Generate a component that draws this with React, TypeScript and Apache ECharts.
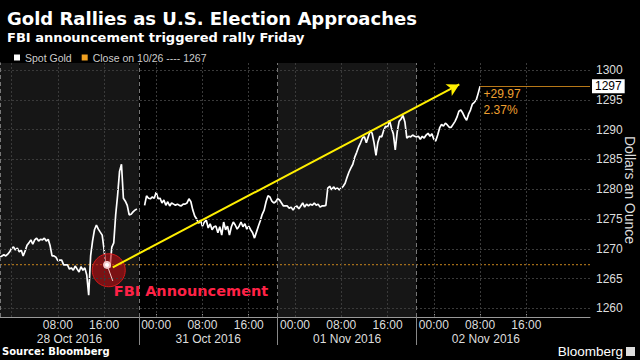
import React, { useEffect, useRef } from "react";
import * as echarts from "echarts";

const titleText = "Gold Rallies as U.S. Election Approaches";
const subtitleText = "FBI announcement triggered rally Friday";
const sourceText = "Source: Bloomberg";
const logoText = "Bloomberg";
const seriesName = "Spot Gold";
const closeName = "Close on 10/26 ---- 1267";
const yAxisName = "Dollars an Ounce";
const fbiText = "FBI Announcement";

// x axis: trading hours from session start (22:00 London, 27 Oct 2016), weekend removed
const xMin = 0;
const xMax = 102;
const stepHours = 1 / 3; // one sample every 20 minutes

const oct28Start = 0;
const oct28Prices = [
  1268.6, 1268.8, 1269.0, 1268.8, 1269.1, 1269.5, 1270.1, 1270.3, 1269.8, 1270.1,
  1269.5, 1269.8, 1268.8, 1269.6, 1270.6, 1271.0, 1271.5, 1270.8, 1271.5, 1271.8,
  1271.3, 1271.6, 1271.5, 1271.8, 1271.3, 1271.6, 1270.5, 1268.8, 1268.8, 1268.6,
  1268.0, 1268.1, 1268.1, 1267.3, 1267.3, 1267.3, 1266.6, 1266.8, 1266.4, 1267.1,
  1266.6, 1266.1, 1267.0, 1266.4, 1266.8, 1265.6, 1262.2, 1268.8, 1271.3, 1273.2,
  1274.0, 1273.3, 1272.8, 1272.3, 1269.8, 1266.8, 1267.4, 1266.8, 1270.3, 1271.0,
  1275.7, 1279.0, 1283.0, 1284.2, 1278.5, 1278.0, 1277.3, 1275.7, 1275.8, 1276.2,
  1276.5, 1276.7,
];
const weekendGapAt = 24.5;
const oct31Start = 25;
const oct31Prices = [
  1277.3, 1278.9, 1278.5, 1278.4, 1278.7, 1278.5, 1279.5, 1278.4, 1278.5, 1277.7,
  1278.2, 1277.3, 1277.9, 1277.2, 1277.7, 1277.5, 1277.3, 1277.5, 1277.3, 1277.2,
  1277.5, 1277.5, 1277.7, 1278.4, 1277.9, 1276.5, 1275.5, 1275.0, 1274.3, 1274.8,
  1273.8, 1274.5, 1274.8, 1273.5, 1274.2, 1273.2, 1273.7, 1273.8, 1272.7, 1273.7,
  1272.3, 1274.5, 1273.2, 1273.8, 1272.3, 1273.7, 1274.5, 1274.0, 1273.3, 1273.8,
  1274.5, 1273.7, 1274.2, 1273.3, 1273.8, 1273.2, 1272.7, 1271.8, 1272.8, 1273.8,
  1274.7, 1275.8, 1276.5, 1277.9, 1278.9, 1278.7, 1278.0, 1277.7, 1277.9,
];
const nov01Start = 48;
const nov01Prices = [
  1278.4, 1278.2, 1277.7, 1277.2, 1277.2, 1277.2, 1276.8, 1277.0, 1276.5, 1277.0,
  1277.2, 1276.7, 1277.2, 1277.7, 1277.0, 1277.5, 1277.2, 1277.5, 1277.3, 1277.7,
  1277.3, 1277.5, 1277.0, 1277.2, 1277.2, 1277.3, 1280.2, 1280.5, 1279.9, 1280.4,
  1280.0, 1280.2, 1279.9, 1280.2, 1280.5, 1281.0, 1282.0, 1282.9, 1283.6, 1284.2,
  1285.4, 1286.2, 1287.1, 1287.8, 1288.6, 1288.8, 1287.8, 1288.8, 1289.8, 1289.4,
  1287.8, 1285.7, 1287.9, 1288.9, 1288.8, 1289.9, 1290.6, 1290.4, 1291.6, 1290.3,
  1289.3, 1286.6, 1289.6, 1291.4, 1291.8, 1292.4, 1291.3, 1288.6, 1288.9, 1288.8,
  1289.1, 1288.9,
];
const nov02Start = 72;
const nov02Prices = [
  1288.8, 1288.9, 1288.4, 1288.9, 1288.6, 1289.1, 1289.4, 1288.9, 1289.3, 1288.4,
  1288.1, 1289.1, 1290.3, 1290.9, 1290.6, 1291.1, 1290.8, 1290.4, 1290.4, 1290.9,
  1291.4, 1292.1, 1293.1, 1293.3, 1292.8, 1292.1, 1291.6, 1292.6, 1293.3, 1294.3,
  1294.6, 1295.0, 1296.1, 1297.3,
];

const closeOct26 = 1267.33;
const lastPriceLabel = "1297";
const changeLabel = "+29.97";
const pctLabel = "2.37%";

const hourTicks = [10, 18, 27, 35, 43, 51, 59, 67, 75, 83, 91];
const hourTickLabels = ["08:00", "16:00", "00:00", "08:00", "16:00", "00:00", "08:00", "16:00", "00:00", "08:00", "16:00"];
const gridHours = [2, 10, 18, 27, 35, 43, 51, 59, 67, 75, 83, 91];
const sessionBreaks = [0, 24, 48, 72];
const dayDividers = [24, 48, 72];
const dayCenters = [12, 36, 60, 84];
const dayLabels = ["28 Oct 2016", "31 Oct 2016", "01 Nov 2016", "02 Nov 2016"];
const shadedSessions = [[0, 24], [48, 72]];

const yMin = 1258.55;
const yMax = 1301.2;
const yTicks = [1260, 1265, 1270, 1275, 1280, 1285, 1290, 1295, 1300];
const yMinorTicks = [1262.5, 1267.5, 1272.5, 1277.5, 1282.5, 1287.5, 1292.5, 1297.5];

const fbiPoint = [18.8, 1266.4];
const fbiMarkerFrom = [18.5, 1267.3];
const fbiMarkerTo = [19.5, 1264.6];
const arrowFrom = [19.5, 1266.9];
const arrowTo = [79.4, 1297.6];

const sessionPoints = (start: number, prices: number[]) =>
  prices.map((p, i) => [+(start + i * stepHours).toFixed(3), p]);

const spotData: any[] = [
  ...sessionPoints(oct28Start, oct28Prices),
  [weekendGapAt, "-"],
  ...sessionPoints(oct31Start, oct31Prices),
  ...sessionPoints(nov01Start, nov01Prices),
  ...sessionPoints(nov02Start, nov02Prices),
];
const lastPoint = spotData[spotData.length - 1];
const closeData = [[xMin, closeOct26], [xMax, closeOct26]];

const UI = "Liberation Sans";
const BOLD = "DejaVu Sans";

const labelFor = (vals: number[], labels: string[]) => (v: number) => {
  const i = vals.findIndex((x) => Math.abs(x - v) < 0.01);
  return i >= 0 ? labels[i] : "";
};

const gridStyle = { color: "#3a3a3a", type: [2, 2], width: 1 };

const gridBox = { left: 0, right: 50, top: 63, bottom: 43, containLabel: false, outerBoundsMode: "none" };

const option: any = {
  animation: false,
  backgroundColor: "#000",
  title: {
    left: 2,
    top: 3,
    text: titleText,
    subtext: subtitleText,
    itemGap: 1,
    textStyle: { color: "#fff", fontSize: 18, fontWeight: "bold", fontFamily: BOLD, lineHeight: 20 },
    subtextStyle: { color: "#fff", fontSize: 13, fontWeight: "bold", fontFamily: BOLD, lineHeight: 16 },
  },
  legend: {
    left: 9,
    top: 47,
    icon: "rect",
    itemWidth: 6,
    itemHeight: 6,
    itemGap: 10,
    selectedMode: false,
    data: [seriesName, closeName],
    textStyle: { color: "#ccc", fontSize: 10.5, fontFamily: UI },
  },
  grid: [{ ...gridBox }, { ...gridBox }],
  xAxis: [
    {
      gridIndex: 0,
      type: "value",
      min: xMin,
      max: xMax,
      position: "bottom",
      axisLine: { show: true, lineStyle: { color: "#999", width: 1 } },
      axisTick: { show: true, inside: true, length: 3, customValues: gridHours, lineStyle: { color: "#999" } },
      axisLabel: {
        customValues: hourTicks,
        formatter: labelFor(hourTicks, hourTickLabels),
        color: "#ddd",
        fontSize: 12,
        fontFamily: UI,
        lineHeight: 12,
        margin: 2,
      },
      splitLine: { show: false },
    },
    {
      gridIndex: 1,
      type: "value",
      min: xMin,
      max: xMax,
      position: "bottom",
      axisLine: { show: false },
      axisTick: { show: true, length: 28, customValues: dayDividers, lineStyle: { color: "#888" } },
      axisLabel: {
        customValues: dayCenters,
        formatter: labelFor(dayCenters, dayLabels),
        color: "#ddd",
        fontSize: 12,
        fontFamily: UI,
        lineHeight: 12,
        margin: 16,
      },
      splitLine: { show: false },
    },
  ],
  yAxis: [
    {
      gridIndex: 0,
      type: "value",
      position: "right",
      min: yMin,
      max: yMax,
      axisLine: { show: true, lineStyle: { color: "#999" } },
      axisTick: { show: true, length: 4, customValues: yTicks, lineStyle: { color: "#999" } },
      axisLabel: {
        customValues: yTicks,
        formatter: (v: number) => String(Math.round(v)),
        color: "#ddd",
        fontSize: 12,
        fontFamily: UI,
        margin: 6,
      },
      splitLine: { show: false },
      name: yAxisName,
      nameLocation: "middle",
      nameRotate: -90,
      nameGap: 33,
      nameMoveOverlap: false,
      nameTextStyle: { color: "#ddd", fontSize: 14, fontFamily: UI },
    },
    {
      gridIndex: 1,
      type: "value",
      position: "right",
      min: yMin,
      max: yMax,
      axisLine: { show: false },
      axisTick: { show: true, length: 2, customValues: yMinorTicks, lineStyle: { color: "#999" } },
      axisLabel: { show: false },
      splitLine: { show: false },
    },
  ],
  series: [
    {
      name: "bands",
      type: "line",
      xAxisIndex: 0,
      yAxisIndex: 0,
      data: [],
      z: 0,
      silent: true,
      markArea: {
        silent: true,
        itemStyle: { color: "#161616" },
        data: shadedSessions.map(([a, b]) => [{ xAxis: a }, { xAxis: b }]),
      },
    },
    {
      name: closeName,
      type: "line",
      xAxisIndex: 0,
      yAxisIndex: 0,
      data: closeData,
      color: "#f0a020",
      showSymbol: false,
      symbol: "none",
      z: 1,
      silent: true,
      lineStyle: { color: "#c8861e", width: 1, type: [2, 2] },
      markLine: {
        silent: true,
        symbol: ["none", "none"],
        label: { show: false },
        data: [
          ...gridHours.map((v) => ({ xAxis: v, lineStyle: gridStyle })),
          ...yTicks.map((v) => ({ yAxis: v, lineStyle: gridStyle })),
          ...sessionBreaks.map((v) => ({ xAxis: v, lineStyle: { color: "#777", type: [4, 3], width: 1 } })),
        ],
      },
    },
    {
      name: seriesName,
      type: "line",
      xAxisIndex: 0,
      yAxisIndex: 0,
      data: spotData,
      color: "#fff",
      showSymbol: false,
      symbol: "none",
      connectNulls: false,
      z: 3,
      silent: true,
      lineStyle: { color: "#fff", width: 1.7 },
      markLine: {
        silent: true,
        symbol: ["none", "none"],
        label: { show: false },
        data: [
          [
            { coord: arrowFrom, symbol: "none", lineStyle: { color: "#ffef00", width: 2, type: "solid" } },
            { coord: arrowTo, symbol: "arrow", symbolSize: [10, 12] },
          ],
          [
            {
              coord: [lastPoint[0], lastPoint[1]],
              symbol: "none",
              lineStyle: { color: "#b87818", width: 1, type: "solid" },
              label: {
                show: true,
                position: "end",
                distance: 2,
                formatter: lastPriceLabel,
                color: "#000",
                backgroundColor: "#fff",
                padding: [1, 3, 1, 3],
                fontSize: 12,
                fontFamily: UI,
              },
            },
            { coord: [xMax, lastPoint[1]], symbol: "none" },
          ],
        ],
      },
      markPoint: {
        silent: true,
        data: [
          {
            coord: [lastPoint[0], lastPoint[1]],
            symbol: "circle",
            symbolSize: 1,
            itemStyle: { color: "rgba(0,0,0,0)" },
            label: {
              show: true,
              position: [4, 0],
              formatter: changeLabel + "\n" + pctLabel,
              color: "#f0a030",
              fontSize: 12,
              lineHeight: 16,
              fontFamily: UI,
            },
          },
        ],
      },
    },
    {
      name: "fbi",
      type: "scatter",
      xAxisIndex: 0,
      yAxisIndex: 0,
      data: [fbiPoint],
      symbolSize: 33,
      z: 4,
      silent: true,
      itemStyle: { color: "rgba(185,15,20,0.62)", borderColor: "#d41a1a", borderWidth: 1, opacity: 1 },
      label: {
        show: true,
        formatter: fbiText,
        position: [22, 38],
        verticalAlign: "middle",
        color: "#ff2246",
        fontSize: 14.5,
        fontWeight: "bold",
        fontFamily: BOLD,
      },
      markLine: {
        silent: true,
        label: { show: false },
        data: [
          [
            { coord: fbiMarkerFrom, symbol: "emptyCircle", symbolSize: 6, lineStyle: { color: "#f2c8c8", width: 1, type: "solid" } },
            { coord: fbiMarkerTo, symbol: "none" },
          ],
        ],
      },
    },
    {
      name: "dates",
      type: "line",
      xAxisIndex: 1,
      yAxisIndex: 1,
      data: [],
      silent: true,
    },
  ],
  graphic: [
    { type: "text", left: 2, top: 346, style: { text: sourceText, fill: "#fff", font: `bold 10px "${BOLD}"` } },
    { type: "text", right: 17, top: 344, style: { text: logoText, fill: "#fff", font: '13.5px "Liberation Sans"' } },
    { type: "rect", right: 5, top: 347, shape: { width: 9, height: 9 }, style: { fill: "#ddd" } },
  ],
};

export default function App() {
  const ref = useRef<HTMLDivElement>(null);
  useEffect(() => {
    const chart = echarts.init(ref.current as HTMLDivElement, null, { renderer: "svg" });
    chart.setOption(option);
    return () => chart.dispose();
  }, []);
  return (
    <div
      ref={ref}
      style={{ position: "fixed", left: 0, top: 0, width: 640, height: 360, background: "#000" }}
    />
  );
}
